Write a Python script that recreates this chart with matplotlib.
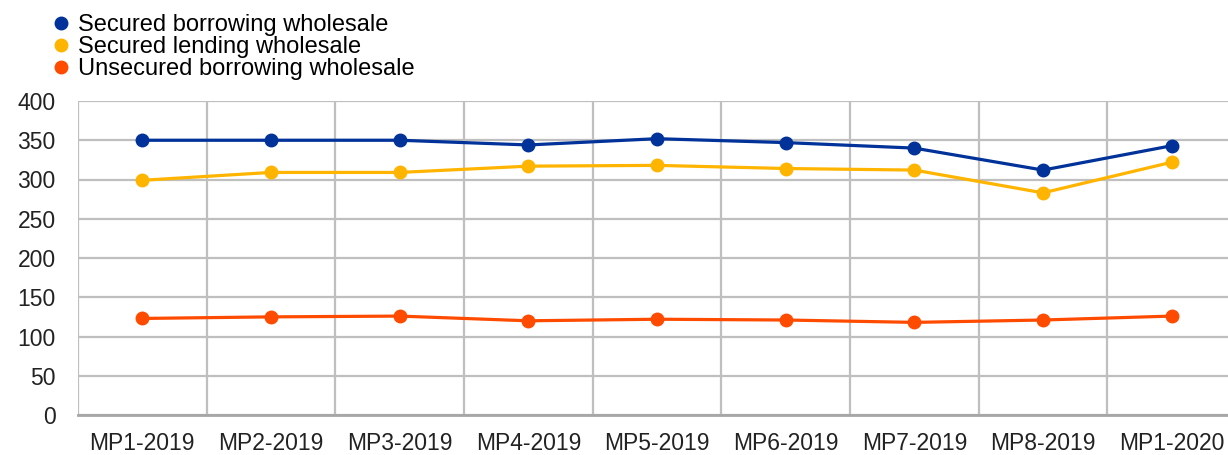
import matplotlib.pyplot as plt
from matplotlib.lines import Line2D

plt.rcParams['font.family'] = ['Liberation Sans', 'DejaVu Sans']

periods = ['MP1-2019', 'MP2-2019', 'MP3-2019', 'MP4-2019', 'MP5-2019',
           'MP6-2019', 'MP7-2019', 'MP8-2019', 'MP1-2020']
secured_borrowing = [350, 350, 350, 344, 352, 347, 340, 312, 343]
secured_lending = [299, 309, 309, 317, 318, 314, 312, 283, 322]
unsecured_borrowing = [123, 125, 126, 120, 122, 121, 118, 121, 126]

names = ['Secured borrowing wholesale', 'Secured lending wholesale',
         'Unsecured borrowing wholesale']
colors = ['#003299', '#ffb400', '#ff4b00']
series = [secured_borrowing, secured_lending, unsecured_borrowing]

fig = plt.figure(figsize=(12.28, 4.55), dpi=100)
ax = fig.add_axes([78 / 1228, 40 / 455, 1158 / 1228, 314 / 455])

x = range(len(periods))
for vals, col in zip(series, colors):
    ax.plot(x, vals, color=col, lw=2.3, marker='o', markersize=9, zorder=3)

ax.set_xlim(-0.5, 8.5)
ax.set_ylim(0, 400)
ax.set_yticks(range(0, 401, 50))
ax.set_xticks(list(x))
ax.set_xticklabels(periods)
ax.set_xticks([i + 0.5 for i in range(-1, 9)], minor=True)

ax.grid(axis='y', which='major', color='#bfbfbf', lw=1.6)
ax.grid(axis='x', which='minor', color='#bfbfbf', lw=1.6)
ax.set_axisbelow(True)
for s in ['top', 'right', 'left']:
    ax.spines[s].set_visible(False)
ax.spines['bottom'].set_color('#a6a6a6')
ax.spines['bottom'].set_linewidth(2)
ax.tick_params(axis='both', which='both', length=0, labelsize=16.5, colors='#222222')
ax.tick_params(axis='x', pad=12)
ax.tick_params(axis='y', pad=16)

handles = [Line2D([], [], ls='none', marker='o', markersize=9, color=c) for c in colors]
fig.legend(handles, names, loc='upper left', bbox_to_anchor=(0.027, 1.006),
           frameon=False, fontsize=17, labelspacing=0.0, handletextpad=0.2,
           handlelength=1.0, borderaxespad=0.3)

fig.savefig('out.png', dpi=100)
